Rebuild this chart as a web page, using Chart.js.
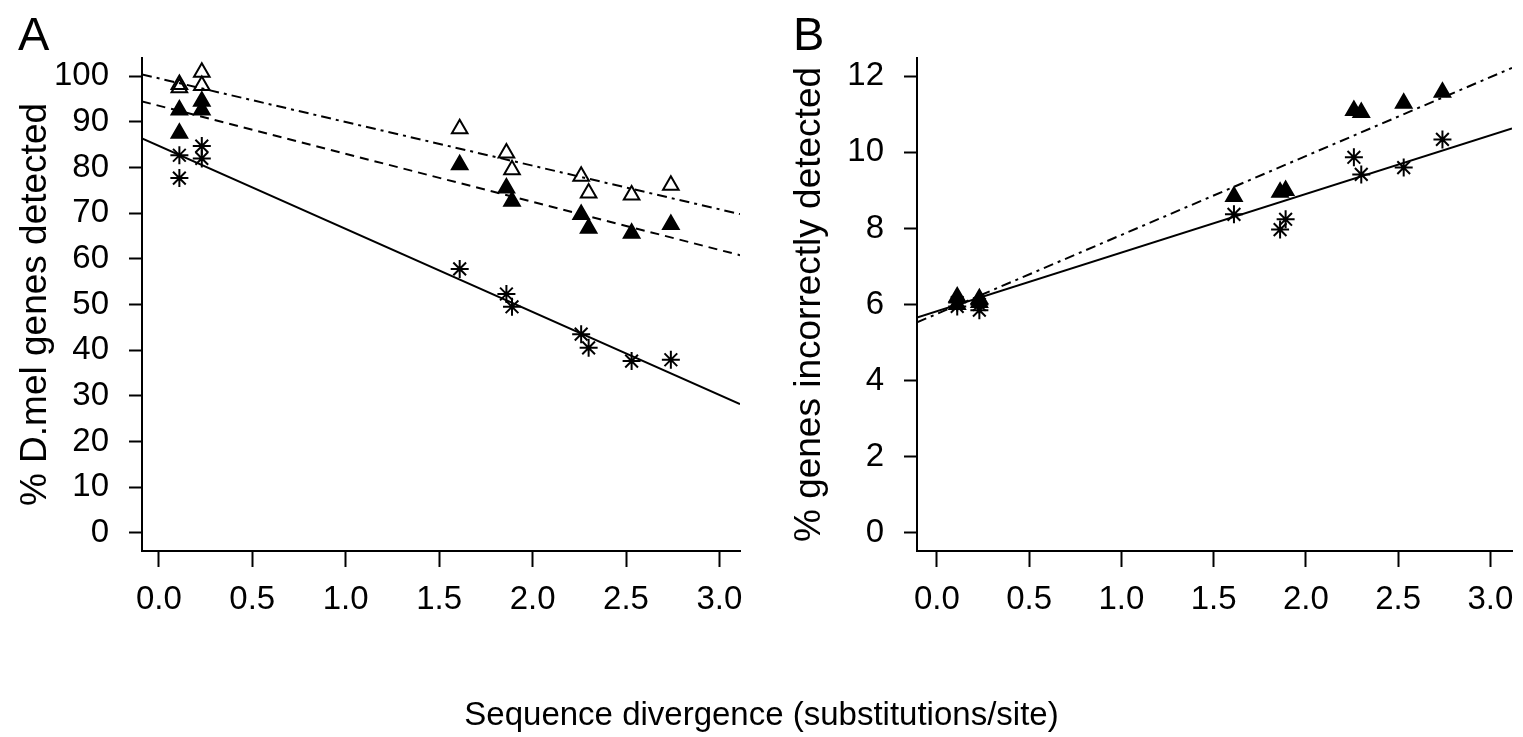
<!DOCTYPE html>
<html>
<head>
<meta charset="utf-8">
<script src="https://cdn.jsdelivr.net/npm/chart.js@4.4.0/dist/chart.umd.min.js"></script>
<style>
  html, body { margin: 0; padding: 0; background: #fff; }
  #wrap { position: relative; width: 1523px; height: 737px; overflow: hidden;
          font-family: 'Liberation Sans', Arial, sans-serif; color: #000; }
  canvas { position: absolute; top: 0; }
  .lbl { position: absolute; line-height: 1; white-space: nowrap; }
</style>
</head>
<body>
<div id="wrap">
  <canvas id="chartA" width="760" height="737" style="left:0"></canvas>
  <canvas id="chartB" width="763" height="737" style="left:760px"></canvas>
  <div class="lbl" style="left:18px; top:10px; font-size:47px">A</div>
  <div class="lbl" style="left:793px; top:10px; font-size:47px">B</div>
  <div class="lbl" style="left:0; width:1523px; text-align:center; top:697px; font-size:33px">Sequence divergence (substitutions/site)</div>
</div>
<script>
// substitutions/site for each comparison
const divergence = [0.11, 0.11, 0.23, 0.23, 1.61, 1.86, 1.89, 2.26, 2.30, 2.53, 2.74];

// panel A: % D.mel genes detected
const detectedOpen   = [97.5, 98.2, 100.9, 98.0, 88.5, 83.2, 79.5, 78.1, 74.4, 74.0, 76.1];
const detectedFilled = [92.6, 87.5, 94.5, 92.6, 80.6, 75.5, 72.6, 69.7, 66.7, 65.6, 67.5];
const detectedStar   = [82.7, 77.7, 84.7, 82.0, 57.8, 52.3, 49.5, 43.5, 40.5, 37.6, 37.9];

// panel B: % genes incorrectly detected
const incorrectFilled = [6.2, 6.0, 6.15, 6.05, 8.84, 8.95, 9.0, 11.1, 11.05, 11.29, 11.58];
const incorrectStar   = [5.95, 6.05, 5.85, 6.0, 8.37, 7.97, 8.24, 9.87, 9.42, 9.6, 10.34];

// fitted lines, read where they meet the panel edges
const xRangeA = [-0.09, 3.11];
const fitOpenA   = [100.4, 69.8];
const fitFilledA = [94.5, 60.8];
const fitStarA   = [86.4, 28.2];
const xRangeB = [-0.108, 3.117];
const fitFilledB = [5.53, 12.22];
const fitStarB   = [5.66, 10.63];

const xTicks  = [0, 0.5, 1, 1.5, 2, 2.5, 3];
const yTicksA = [0, 10, 20, 30, 40, 50, 60, 70, 80, 90, 100];
const yTicksB = [0, 2, 4, 6, 8, 10, 12];

const FONT = "'Liberation Sans', Arial, sans-serif";
const pts = (xs, ys) => xs.map((x, i) => ({ x, y: ys[i] }));

function markers(ys, style, fill) {
  return {
    data: pts(divergence, ys),
    pointStyle: style,
    pointRadius: 9,
    borderColor: '#000',
    backgroundColor: fill,
    borderWidth: 2,
    showLine: false,
  };
}

function fitLine(xr, ys, dash) {
  return {
    data: pts(xr, ys),
    showLine: true,
    pointRadius: 0,
    borderColor: '#000',
    borderWidth: 2,
    borderDash: dash,
    fill: false,
  };
}

function makeChart(id, datasets, xr, yr, yTicks, yWidth, yTitle, titlePad, padRight) {
  new Chart(document.getElementById(id), {
    type: 'scatter',
    data: { datasets },
    options: {
      responsive: false,
      animation: false,
      devicePixelRatio: 1,
      events: [],
      layout: { padding: { left: 0, top: 58, right: padRight, bottom: 0 } },
      plugins: { legend: { display: false }, tooltip: { enabled: false } },
      scales: {
        x: {
          type: 'linear', min: xr[0], max: xr[1],
          afterBuildTicks: (s) => { s.ticks = xTicks.map((v) => ({ value: v })); },
          afterFit: (s) => { s.height = 186; s.paddingLeft = 0; s.paddingRight = 0; },
          grid: { display: true, drawOnChartArea: false, tickLength: 16, tickColor: '#000', tickWidth: 2 },
          border: { display: true, color: '#000', width: 2 },
          ticks: { color: '#000', font: { family: FONT, size: 33 }, padding: 13,
                   maxRotation: 0, autoSkip: false, callback: (v) => Number(v).toFixed(1) },
        },
        y: {
          type: 'linear', min: yr[0], max: yr[1],
          afterBuildTicks: (s) => { s.ticks = yTicks.map((v) => ({ value: v })); },
          afterFit: (s) => { s.width = yWidth; s.paddingTop = 0; s.paddingBottom = 0; },
          grid: { display: true, drawOnChartArea: false, tickLength: 13, tickColor: '#000', tickWidth: 2 },
          border: { display: true, color: '#000', width: 2 },
          ticks: { color: '#000', font: { family: FONT, size: 33 }, padding: 20,
                   autoSkip: false, callback: (v) => String(v) },
          title: { display: true, text: yTitle, color: '#000',
                   font: { family: FONT, size: 37 }, padding: { top: titlePad, bottom: 0 } },
        },
      },
    },
  });
}

makeChart('chartA', [
  markers(detectedOpen, 'triangle', 'rgba(0,0,0,0)'),
  markers(detectedFilled, 'triangle', '#000'),
  markers(detectedStar, 'star', '#000'),
  fitLine(xRangeA, fitOpenA, [10, 5, 3, 5]),
  fitLine(xRangeA, fitFilledA, [9, 6]),
  fitLine(xRangeA, fitStarA, []),
], xRangeA, [-4, 104], yTicksA, 142, '% D.mel genes detected', 14, 20);

makeChart('chartB', [
  markers(incorrectFilled, 'triangle', '#000'),
  markers(incorrectStar, 'star', '#000'),
  fitLine(xRangeB, fitFilledB, [10, 5, 3, 5]),
  fitLine(xRangeB, fitStarB, []),
], xRangeB, [-0.48, 12.48], yTicksB, 157, '% genes incorrectly detected', 28, 11);
</script>
</body>
</html>
